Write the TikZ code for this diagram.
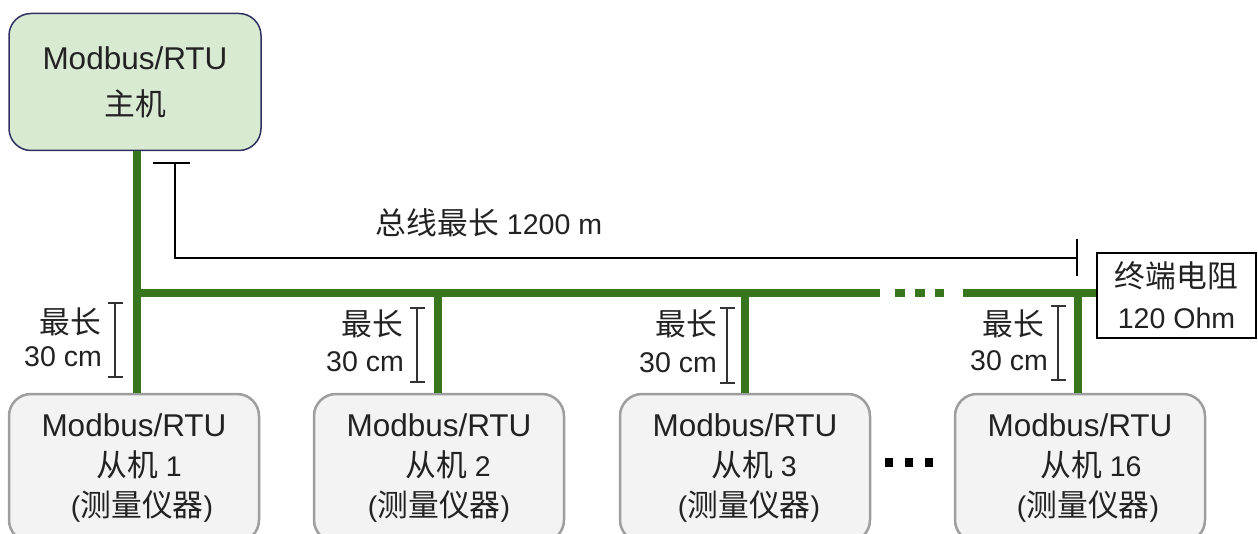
\documentclass[tikz,border=0pt]{standalone}
\usepackage{fontspec}
\setmainfont{Liberation Sans}
\newfontfamily\cjk{Noto Sans CJK SC}[Scale=1.08]
\usetikzlibrary{arrows.meta}
\definecolor{busgreen}{HTML}{38761D}
\definecolor{mgreen}{HTML}{D9EAD3}
\definecolor{navy}{HTML}{2E3160}
\definecolor{sgray}{HTML}{9E9E9E}
\definecolor{sfill}{HTML}{F3F3F3}
\definecolor{txt}{HTML}{222222}
\definecolor{dimgray}{HTML}{333333}
\newcommand{\bigmr}{{\fontsize{31.5}{40}\selectfont Modbus/RTU}}
\begin{document}
\begin{tikzpicture}[x=1pt,y=-1pt,
  font=\fontsize{28.5}{40}\selectfont, text=txt,
  master/.style={draw=navy, line width=1.5pt, fill=mgreen, rounded corners=22pt,
    minimum width=252pt, minimum height=137pt, align=center, inner sep=0pt},
  slave/.style={draw=sgray, line width=2.5pt, fill=sfill, rounded corners=22pt,
    minimum width=250pt, minimum height=148pt, align=center, inner sep=0pt},
  termbox/.style={draw=black, line width=1.5pt, fill=white,
    minimum width=159pt, minimum height=85pt, align=center, inner sep=0pt},
  bus/.style={draw=busgreen, line width=8pt},
  dimline/.style={draw=black, line width=2.5pt},
  mark30/.style={draw=dimgray, line width=1.8pt, {Bar[width=15pt]}-{Bar[width=15pt]}},
  lbl/.style={anchor=east, inner sep=0pt},
  sq/.style={fill=black, draw=none, minimum width=8pt, minimum height=9pt, inner sep=0pt}]
\useasboundingbox (0,0) rectangle (1258,534);

% boxes
\node[master] (master) at (135,82) {\bigmr\\[6pt]{\cjk 主机}};
\node[slave] (s1) at (134,468) {\bigmr\\\hspace*{10pt}{\cjk 从机} 1\\\hspace*{16pt}({\cjk 测量仪器})};
\node[slave] (s2) at (439,468) {\bigmr\\\hspace*{18pt}{\cjk 从机} 2\\({\cjk 测量仪器})};
\node[slave] (s3) at (745,468) {\bigmr\\\hspace*{18pt}{\cjk 从机} 3\\\hspace*{8pt}({\cjk 测量仪器})};
\node[slave] (s4) at (1080,468) {\bigmr\\\hspace*{22pt}{\cjk 从机} 16\\\hspace*{16pt}({\cjk 测量仪器})};
\node[termbox] (term) at (1176.5,295.5) {{\cjk 终端电阻}\\[1pt]120 Ohm};

% bus coordinates
\coordinate (b1) at (137,293);
\coordinate (b2) at (438,293);
\coordinate (b3) at (745,293);
\coordinate (b4) at (1078,293);
\coordinate (g1) at (880,293);
\coordinate (g2) at (963,293);
\coordinate (d1a) at (895,293); \coordinate (d1b) at (905,293);
\coordinate (d2a) at (915,293); \coordinate (d2b) at (925,293);
\coordinate (d3a) at (935,293); \coordinate (d3b) at (944,293);

\draw[bus] (master.south -| b1) -- (b1 |- s1.north);
\draw[bus] (b1) -- (g1);
\draw[bus] (d1a) -- (d1b);
\draw[bus] (d2a) -- (d2b);
\draw[bus] (d3a) -- (d3b);
\draw[bus] (g2) -- (g2 -| term.west);
\draw[bus] (b2) -- (b2 |- s2.north);
\draw[bus] (b3) -- (b3 |- s3.north);
\draw[bus] (b4) -- (b4 |- s4.north);

% total length dimension
\coordinate (tl) at (153,163);
\coordinate (tr) at (190,163);
\coordinate (ta) at (175,163);
\coordinate (tb) at (1077,258);
\coordinate (tt) at (1077,239);
\coordinate (tbb) at (1077,276);
\draw[dimline] (tl) -- (tr);
\draw[dimline] (ta) |- (tb);
\draw[dimline] (tt) -- (tbb);
\node (buslabel) at (489,223) {{\cjk 总线最长} 1200 m};

% stub length markers
\coordinate (m1t) at (115,302); \coordinate (m1b) at (115,378);
\coordinate (m2t) at (417,307); \coordinate (m2b) at (417,383);
\coordinate (m3t) at (727,307); \coordinate (m3b) at (727,384);
\coordinate (m4t) at (1058,305); \coordinate (m4b) at (1058,381);
\draw[mark30] (m1t) -- (m1b);
\draw[mark30] (m2t) -- (m2b);
\draw[mark30] (m3t) -- (m3b);
\draw[mark30] (m4t) -- (m4b);

\node[lbl] (l1a) at (101,322) {\cjk 最长};
\node[lbl] (l1b) at (102,357) {30 cm};
\node[lbl] (l2a) at (403,324) {\cjk 最长};
\node[lbl] (l2b) at (404,362) {30 cm};
\node[lbl] (l3a) at (717,324) {\cjk 最长};
\node[lbl] (l3b) at (717,363) {30 cm};
\node[lbl] (l4a) at (1044,324) {\cjk 最长};
\node[lbl] (l4b) at (1048,361) {30 cm};

% ellipsis between slaves
\node[sq] (e1) at (889,462) {};
\node[sq] (e2) at (909,462) {};
\node[sq] (e3) at (929,462) {};
\end{tikzpicture}
\end{document}
